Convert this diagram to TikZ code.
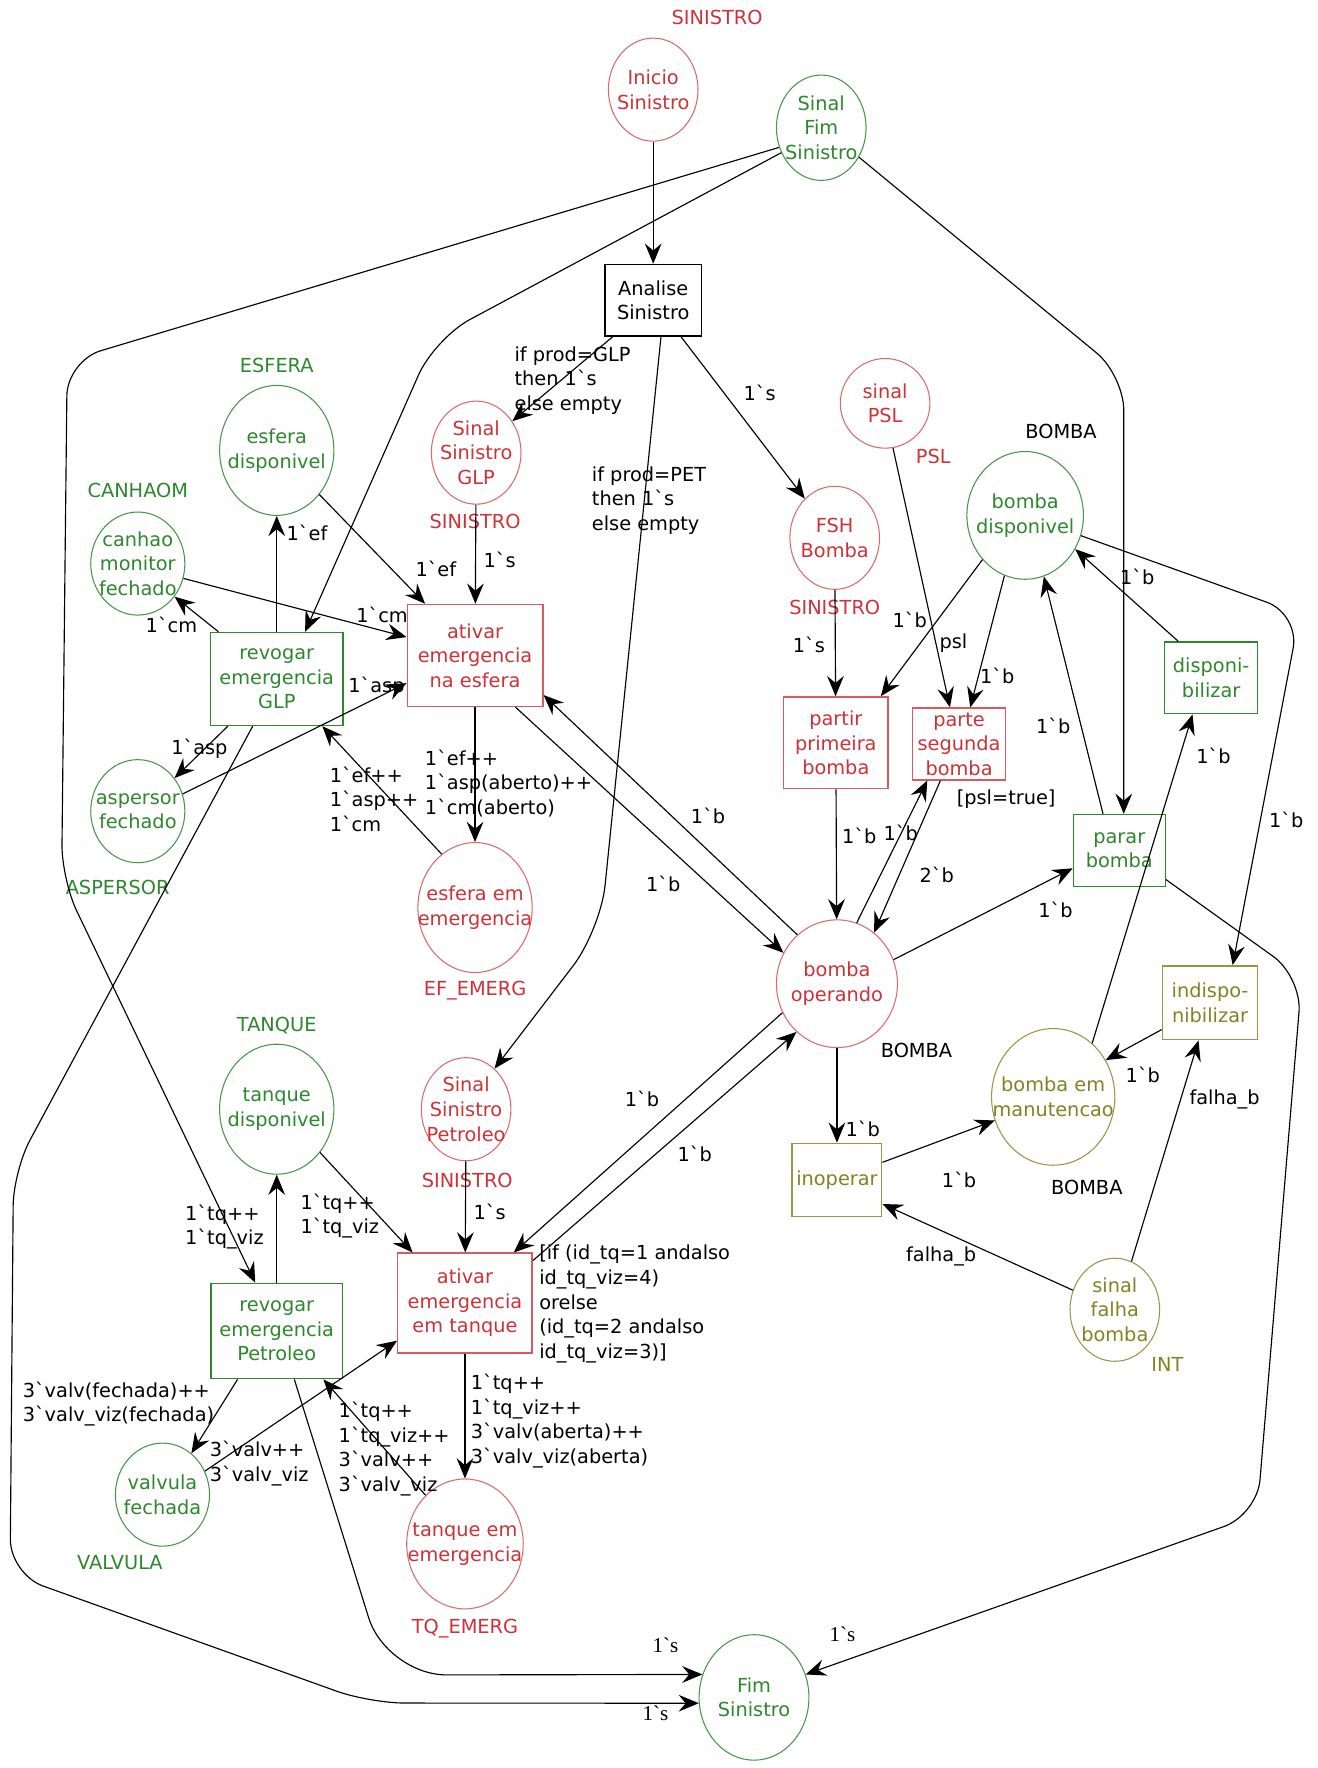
\documentclass[tikz,border=0pt]{standalone}
\usepackage{fontspec}
\setmainfont{DejaVu Sans}
\newfontfamily\tms{Liberation Serif}
\usetikzlibrary{shapes.geometric,arrows.meta}
\definecolor{rt}{RGB}{205,50,55}
\definecolor{rl}{RGB}{222,105,105}
\definecolor{gt}{RGB}{45,135,45}
\definecolor{gl}{RGB}{70,150,70}
\definecolor{ot}{RGB}{130,130,35}
\definecolor{ol}{RGB}{150,150,70}
\newcommand\bq{\textasciigrave}
\tikzset{
  every node/.style={font=\fontsize{11}{14}\selectfont},
  sz/.style 2 args={minimum width=#1*0.0224cm, minimum height=#2*0.0224cm},
  plR/.style={ellipse, draw=rl, line width=0.6pt, inner sep=0pt},
  plG/.style={ellipse, draw=gl, line width=0.6pt, inner sep=0pt},
  plO/.style={ellipse, draw=ol, line width=0.6pt, inner sep=0pt},
  lR/.style={text=rt, align=center},
  lG/.style={text=gt, align=center},
  lO/.style={text=ot, align=center},
  trK/.style={rectangle, draw=black, line width=0.8pt, align=center, inner sep=1pt},
  trR/.style={rectangle, draw=rt!80, text=rt, line width=0.8pt, align=center, inner sep=1pt},
  trG/.style={rectangle, draw=gt, text=gt, line width=0.8pt, align=center, inner sep=1pt},
  trO/.style={rectangle, draw=ol, text=ot, line width=0.8pt, align=center, inner sep=1pt},
  tyR/.style={text=rt, inner sep=0pt},
  tyG/.style={text=gt, inner sep=0pt},
  tyO/.style={text=ot, inner sep=0pt},
  tyK/.style={text=black, inner sep=0pt},
  al/.style={inner sep=0pt, anchor=center},
  ab/.style={inner sep=0pt, anchor=north west, align=left},
  arc/.style={draw=black, line width=0.65pt, -{Stealth[length=11.5pt,width=9.5pt,inset=4pt]}}
}
\begin{document}
\begin{tikzpicture}[x=0.0224cm,y=-0.0224cm]
\useasboundingbox (0,0) rectangle (1176,1578);
% ---------- places ----------
\node[plR, sz={80}{92}, label={[lR]center:{Inicio\\Sinistro}}] (inicio) at (583,80) {};
\node[plG, sz={80}{94}, label={[lG]center:{Sinal\\Fim\\Sinistro}}] (sfim) at (733,114) {};
\node[plR, sz={80}{92}, label={[lR]center:{Sinal\\Sinistro\\GLP}}] (sglp) at (425,404) {};
\node[plG, sz={102}{116}, label={[lG]center:{esfera\\disponivel}}] (edisp) at (247,402) {};
\node[plG, sz={84}{92}, label={[lG]center:{canhao\\monitor\\fechado}}] (canhao) at (123,503) {};
\node[plG, sz={84}{92}, label={[lG]center:{aspersor\\fechado}}] (asp) at (123,724) {};
\node[plR, sz={102}{116}, label={[lR]center:{esfera em\\emergencia}}] (eem) at (424,810) {};
\node[plR, sz={80}{92}, label={[lR]center:{FSH\\Bomba}}] (fsh) at (745,480) {};
\node[plR, sz={80}{80}, label={[lR]center:{sinal\\PSL}}] (spsl) at (790,360) {};
\node[plG, sz={104}{114}, label={[lG]center:{bomba\\disponivel}}] (bdisp) at (915,460) {};
\node[plR, sz={108}{114}, label={[lR]center:{bomba\\operando}}] (bop) at (747,878) {};
\node[plG, sz={102}{116}, label={[lG]center:{tanque\\disponivel}}] (tdisp) at (247,990) {};
\node[plR, sz={80}{92}, label={[lR]center:{Sinal\\Sinistro\\Petroleo}}] (spet) at (416,990) {};
\node[plO, sz={110}{122}, label={[lO]center:{bomba em\\manutencao}}] (manut) at (940,979) {};
\node[plO, sz={80}{92}, label={[lO]center:{sinal\\falha\\bomba}}] (sfb) at (995,1169) {};
\node[plG, sz={84}{92}, label={[lG]center:{valvula\\fechada}}] (vf) at (145,1334) {};
\node[plR, sz={104}{116}, label={[lR]center:{tanque em\\emergencia}}] (tem) at (415,1378) {};
\node[plG, sz={98}{112}, label={[lG]center:{Fim\\Sinistro}}] (fim) at (673,1515) {};
% ---------- transitions ----------
\node[trK, sz={86}{64}] (analise) at (583,268) {Analise\\Sinistro};
\node[trR, sz={121}{91}] (aesf) at (424,585) {ativar\\emergencia\\na esfera};
\node[trG, sz={118}{83}] (rglp) at (247,606) {revogar\\emergencia\\GLP};
\node[trR, sz={93}{82}] (partir) at (746,663) {partir\\primeira\\bomba};
\node[trR, sz={83}{64}] (parte) at (856,664) {parte\\segunda\\bomba};
\node[trG, sz={83}{64}] (disp) at (1081,605) {disponi-\\bilizar};
\node[trG, sz={82}{64}] (parar) at (999,759) {parar\\bomba};
\node[trO, sz={85}{66}] (indisp) at (1080,895) {indispo-\\nibilizar};
\node[trO, sz={80}{65}] (inop) at (747,1053) {inoperar};
\node[trR, sz={120}{89}] (atq) at (415,1163) {ativar\\emergencia\\em tanque};
\node[trG, sz={117}{85}] (rpet) at (247,1188) {revogar\\emergencia\\Petroleo};
% ---------- type labels ----------
\node[tyR] (ty1) at (640,16) {SINISTRO};
\node[tyG] (ty2) at (247,326) {ESFERA};
\node[tyG] (ty3) at (123,438) {CANHAOM};
\node[tyR] (ty4) at (424,465) {SINISTRO};
\node[tyG] (ty5) at (105,792) {ASPERSOR};
\node[tyR] (ty6) at (424,884) {EF\_EMERG};
\node[tyR] (ty7) at (745,542) {SINISTRO};
\node[tyR] (ty8) at (833,407) {PSL};
\node[tyK] (ty9) at (947,385) {BOMBA};
\node[tyK] (ty10) at (818,938) {BOMBA};
\node[tyK] (ty11) at (970,1060) {BOMBA};
\node[tyO] (ty12) at (1042,1218) {INT};
\node[tyG] (ty13) at (247,915) {TANQUE};
\node[tyR] (ty14) at (417,1054) {SINISTRO};
\node[tyG] (ty15) at (107,1395) {VALVULA};
\node[tyR] (ty16) at (415,1454) {TQ\_EMERG};
% ---------- helper coordinates ----------
\coordinate (c1) at (536,830);
\coordinate (c2) at (388,302);
\coordinate (c3) at (60,322);
\coordinate (c4) at (55,785);
\coordinate (c5) at (1003,335);
\coordinate (c6) at (12,1045);
\coordinate (c7) at (9,1405);
\coordinate (c8) at (330,1520);
\coordinate (c9) at (345,1495);
\coordinate (c10) at (1162,872);
\coordinate (c11) at (1122,1352);
\coordinate (c12) at (1160,548);
% ---------- arcs ----------
\draw[arc] (inicio) -- (analise);
\draw[arc] (analise.222) -- (sglp.41);
\draw[arc] (analise) -- (fsh);
\draw[arc, rounded corners=0.9cm] (analise.282) -- (c1) -- (spet.55);
\draw[arc, rounded corners=0.8cm] (sfim.212) -- (c2) -- (rglp.59);
\draw[arc, rounded corners=0.7cm] (sfim.205) -- (c3) -- (c4) -- (rpet.114);
\draw[arc, rounded corners=0.7cm] (sfim.-38) -- (c5) -- (c5 |- parar.north);
\draw[arc, rounded corners=0.7cm] (rglp.243) -- (c6) -- (c7) -- (c8) -- (fim.186);
\draw[arc, rounded corners=1.2cm] (rpet.-70) -- (c9) -- (fim.156);
\draw[arc, rounded corners=0.7cm] (parar.-32) -- (c10) -- (c11) -- (fim.24);
\draw[arc, rounded corners=0.7cm] (bdisp.-20) -- (c12) -- (indisp.59);
\draw[arc] (disp.132) -- (bdisp.-34);
\draw[arc] (parar.114) -- (bdisp.-73);
\draw[arc] (manut.54) -- (disp.243);
\draw[arc] (bdisp.226) -- (partir.46);
\draw[arc] (bdisp.251) -- (parte.73);
\draw[arc] (spsl.-80) -- (parte.104);
\draw[arc] (fsh) -- (partir);
\draw[arc] (partir) -- (bop);
\draw[arc] (bop.72) -- (parte.229);
\draw[arc] (parte.243) -- (bop.54);
\draw[arc] (bop.23) -- (parar.201);
\draw[arc] (bop) -- (inop);
\draw[arc] (inop.21) -- (manut.202);
\draw[arc] (indisp.209) -- (manut.35);
\draw[arc] (sfb.71) -- (indisp.253);
\draw[arc] (sfb.155) -- (inop.-28);
\draw[arc] (aesf.-52) -- (bop.150);
\draw[arc] (bop.129) -- (aesf.-30);
\draw[arc] (bop.208) -- (atq.46);
\draw[arc] (atq.32) -- (bop.230);
\draw[arc] (edisp.-46) -- (aesf.134);
\draw[arc] (rglp) -- (edisp);
\draw[arc] (canhao.-18) -- (aesf.165);
\draw[arc] (rglp.141) -- (canhao.-42);
\draw[arc] (rglp.224) -- (asp.42);
\draw[arc] (asp.21) -- (aesf.202);
\draw[arc] (sglp) -- (aesf);
\draw[arc] (aesf) -- (eem);
\draw[arc] (eem.122) -- (rglp.-46);
\draw[arc] (rpet) -- (tdisp);
\draw[arc] (tdisp.-45) -- (atq.136);
\draw[arc] (spet) -- (atq);
\draw[arc] (atq) -- (tem);
\draw[arc] (tem.129) -- (rpet.-46);
\draw[arc] (rpet.231) -- (vf.55);
\draw[arc] (vf.29) -- (atq.209);
% ---------- arc labels ----------
\node[ab] (a1) at (459,309) {if prod=GLP\\then 1\bq s\\else empty};
\node[al] (a2) at (678,351) {1\bq s};
\node[ab] (a3) at (528,416) {if prod=PET\\then 1\bq s\\else empty};
\node[al] (a4) at (274,476) {1\bq ef};
\node[al] (a5) at (389,508) {1\bq ef};
\node[al] (a6) at (446,500) {1\bq s};
\node[al] (a7) at (341,549) {1\bq cm};
\node[al] (a8) at (153,558) {1\bq cm};
\node[al] (a9) at (336,613) {1\bq asp};
\node[al] (a10) at (178,668) {1\bq asp};
\node[ab] (a11) at (294,684) {1\bq ef++\\1\bq asp++\\1\bq cm};
\node[ab] (a12) at (379,669) {1\bq ef++\\1\bq asp(aberto)++\\1\bq cm(aberto)};
\node[al] (a13) at (632,728) {1\bq b};
\node[al] (a14) at (592,789) {1\bq b};
\node[al] (a15) at (722,576) {1\bq s};
\node[al] (a16) at (812,553) {1\bq b};
\node[al] (a17) at (851,574) {psl};
\node[al] (a18) at (890,603) {1\bq b};
\node[al] (a19) at (1015,515) {1\bq b};
\node[al] (a20) at (940,648) {1\bq b};
\node[al] (a21) at (1083,675) {1\bq b};
\node[al] (a22) at (1148,732) {1\bq b};
\node[al] (a23) at (898,713) {[psl=true]};
\node[al] (a24) at (767,746) {1\bq b};
\node[al] (a25) at (804,743) {1\bq b};
\node[al] (a26) at (836,781) {2\bq b};
\node[al] (a27) at (942,812) {1\bq b};
\node[al] (a28) at (770,1008) {1\bq b};
\node[al] (a29) at (856,1053) {1\bq b};
\node[al] (a30) at (1020,959) {1\bq b};
\node[al] (a31) at (1093,981) {falha\_b};
\node[al] (a32) at (840,1121) {falha\_b};
\node[al] (a33) at (573,981) {1\bq b};
\node[al] (a34) at (620,1030) {1\bq b};
\node[ab] (a35) at (165,1075) {1\bq tq++\\1\bq tq\_viz};
\node[ab] (a36) at (268,1065) {1\bq tq++\\1\bq tq\_viz};
\node[al] (a37) at (437,1082) {1\bq s};
\node[ab] (a38) at (481,1111) {[if (id\_tq=1 andalso\\id\_tq\_viz=4)\\orelse\\(id\_tq=2 andalso\\id\_tq\_viz=3)]};
\node[ab] (a39) at (420,1226) {1\bq tq++\\1\bq tq\_viz++\\3\bq valv(aberta)++\\3\bq valv\_viz(aberta)};
\node[ab] (a40) at (302,1251) {1\bq tq++\\1\bq tq\_viz++\\3\bq valv++\\3\bq valv\_viz};
\node[ab] (a41) at (20,1233) {3\bq valv(fechada)++\\3\bq valv\_viz(fechada)};
\node[ab] (a42) at (187,1286) {3\bq valv++\\3\bq valv\_viz};
\node[al, font=\tms\fontsize{12}{14}\selectfont] (a43) at (594,1468) {1\bq s};
\node[al, font=\tms\fontsize{12}{14}\selectfont] (a44) at (585,1529) {1\bq s};
\node[al, font=\tms\fontsize{12}{14}\selectfont] (a45) at (752,1459) {1\bq s};
\end{tikzpicture}
\end{document}
